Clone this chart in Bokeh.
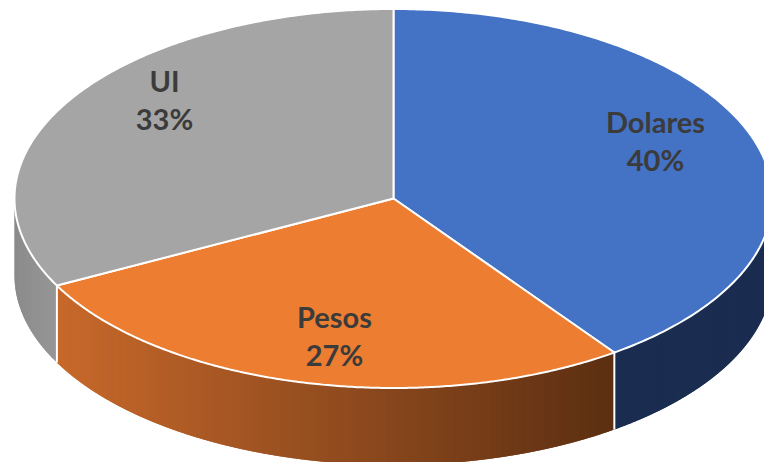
import numpy as np
from bokeh.core.properties import value
from bokeh.embed import file_html
from bokeh.models import Range1d
from bokeh.plotting import figure
from bokeh.resources import INLINE

# Chart data
categories = ["Dolares", "Pesos", "UI"]
shares = [40.1, 27.3, 32.6]
share_labels = ["40%", "27%", "33%"]

# Styles
top_colors = ["#4472C4", "#ED7D31", "#A5A5A5"]
side_start = [(0x1A, 0x2D, 0x50), (0xC8, 0x69, 0x2B), (0x8A, 0x8A, 0x8A)]
side_end = [(0x1A, 0x2D, 0x50), (0x5C, 0x2F, 0x12), (0x96, 0x96, 0x96)]

# Layout (reference pixels)
W, H = 764, 462
CX, CY, RX, RY, DEPTH = 393.0, 198.0, 379.0, 189.5, 77.0
label_x = [655, 334, 164]
label_y = [121, 316, 80]
pct_y = [159, 354, 118]

p = figure(width=W, height=H, output_backend="svg", toolbar_location=None,
           x_range=Range1d(0, W), y_range=Range1d(H, 0),
           min_border=0, min_border_left=0, min_border_right=0,
           min_border_top=0, min_border_bottom=0, background_fill_color="white")
p.axis.visible = False
p.grid.visible = False
p.outline_line_color = None


def ex(a):
    return CX + RX * np.sin(a)


def ey(a):
    return CY - RY * np.cos(a)


edges = 2 * np.pi * np.cumsum([0] + shares) / sum(shares)

# Rim: thin overlapping quads so the shading can vary along x without seams
rim_xs, rim_ys, rim_cols = [], [], []
for i in range(len(shares)):
    a0, a1 = edges[i], edges[i + 1]
    v0, v1 = max(a0, np.pi / 2), min(a1, 3 * np.pi / 2)
    if v1 <= v0:
        continue
    xl, xr = sorted([ex(v0), ex(v1)])
    n = max(4, int(abs(ex(v1) - ex(v0)) / 2))
    ts = np.linspace(v0, v1, n + 1)
    for k in range(n):
        end = ts[min(k + 2, n)]
        t = np.linspace(ts[k], end, 6)
        xs = ex(t)
        ys = ey(t)
        rim_xs.append(list(xs) + list(xs[::-1]))
        rim_ys.append(list(ys) + list((ys + DEPTH)[::-1]))
        f = (0.5 * (ex(ts[k]) + ex(ts[k + 1])) - xl) / (xr - xl)
        c = [int(round(s + (e - s) * f)) for s, e in zip(side_start[i], side_end[i])]
        rim_cols.append("#%02x%02x%02x" % tuple(c))

p.patches(rim_xs[::-1], rim_ys[::-1], fill_color=rim_cols[::-1], line_color=None)

# White separators on the rim at visible wedge boundaries
for a in edges[1:-1]:
    p.line([ex(a), ex(a)], [ey(a), ey(a) + DEPTH], line_color="white", line_width=2)

# Top face
for i in range(len(shares)):
    t = np.linspace(edges[i], edges[i + 1], 240)
    p.patch([CX] + list(ex(t)), [CY] + list(ey(t)), fill_color=top_colors[i],
            line_color="white", line_width=2, line_join="round")

# Labels
p.text(label_x, label_y, text=categories, text_font=value("Lato"), text_font_style="bold",
       text_font_size="29px", text_color="#3B3B3B", text_align="center", text_baseline="middle")
p.text(label_x, pct_y, text=share_labels, text_font=value("Lato"), text_font_style="bold",
       text_font_size="29px", text_color="#3B3B3B", text_align="center", text_baseline="middle")

open("out.html", "w").write(file_html(p, INLINE))
